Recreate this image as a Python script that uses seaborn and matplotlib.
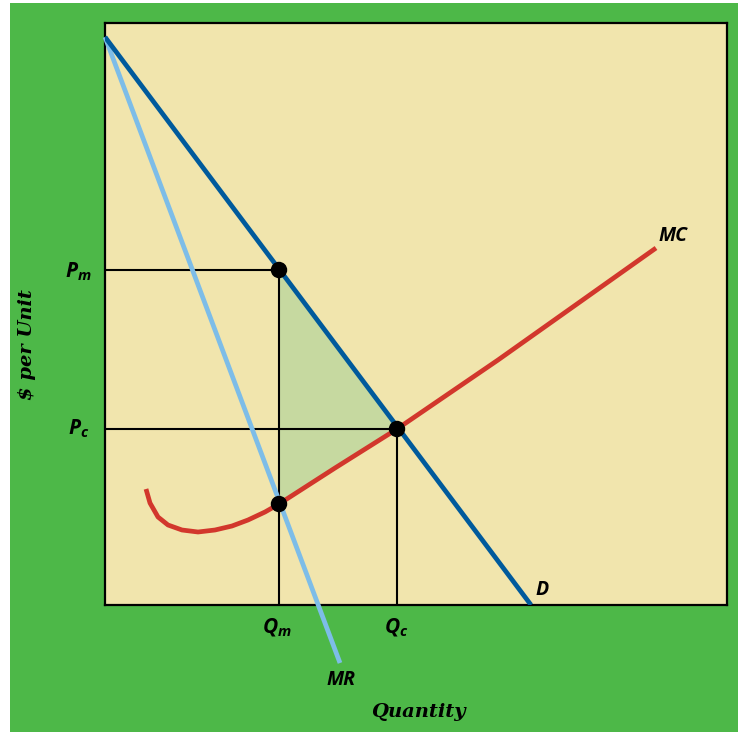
import matplotlib
matplotlib.use("Agg")
import matplotlib.pyplot as plt
import seaborn as sns
import pandas as pd
from matplotlib.patches import Rectangle

# chart values (units = pixels of the reference plot area)
d_q = [0, 426]
d_p = [568, 0]
mr_q = [0, 235]
mr_p = [568, -58]
mc_q = [41, 45, 53, 63, 77, 93, 110, 127, 143, 160, 174, 230, 292, 393, 551]
mc_p = [116, 102, 88, 80, 75, 73, 75, 79, 85, 93, 101, 137, 176, 245, 357]
q_m, q_c = 174, 292
p_m, p_c = 335, 176
mc_at_qm = 101

GREEN = "#4db848"
BEIGE = "#f1e5ad"

sns.set_style("white")
plt.rcParams["text.color"] = "black"
plt.rcParams["mathtext.fontset"] = "custom"
plt.rcParams["mathtext.it"] = "Open Sans:italic:bold"
plt.rcParams["mathtext.rm"] = "Open Sans:italic:bold"

fig = plt.figure(figsize=(7.38, 7.32), dpi=100)
fig.patch.set_facecolor("white")
fig.patches.append(Rectangle((10 / 738, 0), 728 / 738, 729 / 732,
                             transform=fig.transFigure, facecolor=GREEN,
                             edgecolor="none", zorder=-10))
ax = fig.add_axes([105 / 738, (732 - 605) / 732, 622 / 738, 582 / 732])
ax.set_facecolor(BEIGE)
ax.set_xlim(0, 622)
ax.set_ylim(0, 582)
ax.set_xticks([])
ax.set_yticks([])
for s in ax.spines.values():
    s.set_color("black")
    s.set_linewidth(1.6)

# deadweight triangle
ax.fill([q_m, q_c, q_m], [p_m, p_c, mc_at_qm], color="#c6d9a0", zorder=1, lw=0)

# reference lines
ax.plot([0, q_m, q_m], [p_m, p_m, 0], color="black", lw=1.5, zorder=2)
ax.plot([0, q_c, q_c], [p_c, p_c, 0], color="black", lw=1.5, zorder=2)

sns.lineplot(x=mr_q, y=mr_p, ax=ax, color="#7dbde8", lw=3.4, sort=False,
             clip_on=False, zorder=3)
sns.lineplot(x=d_q, y=d_p, ax=ax, color="#005a9c", lw=3.4, sort=False, zorder=4)
sns.lineplot(x=mc_q, y=mc_p, ax=ax, color="#d2372c", lw=3.4, sort=False, zorder=4)
for ln in ax.lines:
    ln.set_solid_capstyle("butt")
    ln.set_solid_joinstyle("round")

pts = pd.DataFrame({"q": [q_m, q_m, q_c], "p": [p_m, mc_at_qm, p_c]})
sns.scatterplot(data=pts, x="q", y="p", ax=ax, color="black", s=140,
                edgecolor="none", zorder=5, clip_on=False)

lab = dict(fontsize=15, color="black", clip_on=False)
ax.text(-13, 333, r"$P_m$", ha="right", va="center", **lab)
ax.text(-16, 176, r"$P_c$", ha="right", va="center", **lab)
ax.text(172, -23, r"$Q_m$", ha="center", va="center", **lab)
ax.text(291, -23, r"$Q_c$", ha="center", va="center", **lab)
word = dict(fontsize=14, color="black", family="Open Sans", style="italic",
            weight="bold", clip_on=False)
ax.text(236, -75, "MR", ha="center", va="center", **word)
ax.text(430, 15, "D", ha="left", va="center", **word)
ax.text(553, 369, "MC", ha="left", va="center", **word)

ax.text(-78, 260, r"\$ per Unit", rotation=90, ha="center", va="center",
        fontsize=14, family="DejaVu Serif", style="italic", weight="bold",
        color="black", clip_on=False)
ax.text(313, -107, "Quantity", ha="center", va="center", fontsize=14,
        family="DejaVu Serif", style="italic", weight="bold", color="black",
        clip_on=False)

fig.savefig("out.png", dpi=100)
